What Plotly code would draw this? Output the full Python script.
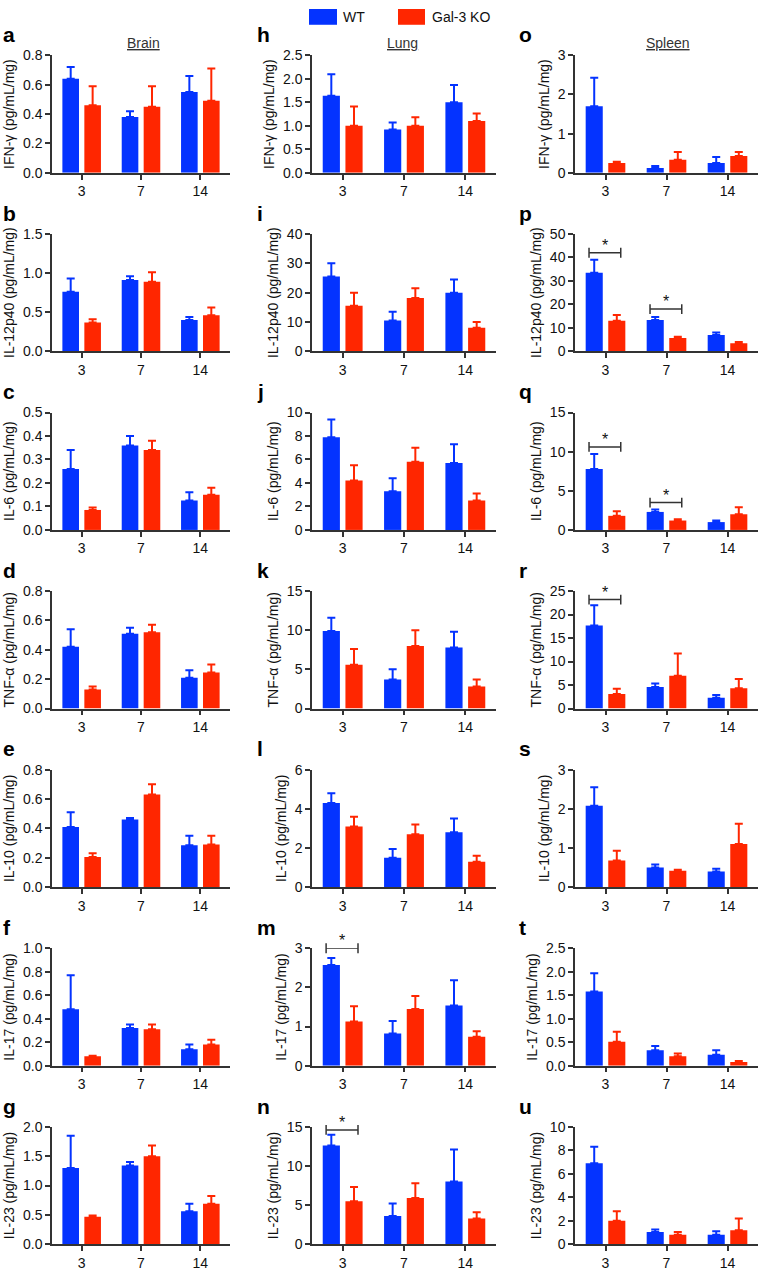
import plotly.graph_objects as go

W, H = 760, 1271

days = ["3", "7", "14"]
tissues = ["Brain", "Lung", "Spleen"]
cytokines = ["IFN-γ", "IL-12p40", "IL-6", "TNF-α", "IL-10", "IL-17", "IL-23"]
panel_letters = [list("abcdefg"), list("hijklmn"), list("opqrstu")]

# ---- Brain ----
brain_wt = [[0.64, 0.38, 0.55], [0.76, 0.91, 0.40], [0.26, 0.36, 0.125], [0.42, 0.51, 0.21],
            [0.41, 0.46, 0.285], [0.48, 0.32, 0.14], [1.30, 1.34, 0.56]]
brain_wt_err = [[0.08, 0.04, 0.11], [0.17, 0.05, 0.04], [0.08, 0.04, 0.035], [0.12, 0.04, 0.05],
                [0.10, 0.01, 0.065], [0.29, 0.03, 0.04], [0.55, 0.06, 0.13]]
brain_ko = [[0.46, 0.45, 0.49], [0.37, 0.89, 0.46], [0.085, 0.34, 0.15], [0.13, 0.52, 0.245],
            [0.205, 0.63, 0.29], [0.08, 0.31, 0.18], [0.47, 1.50, 0.69]]
brain_ko_err = [[0.13, 0.14, 0.22], [0.04, 0.12, 0.10], [0.01, 0.04, 0.03], [0.02, 0.05, 0.055],
                [0.025, 0.07, 0.06], [0.005, 0.04, 0.04], [0.02, 0.18, 0.13]]

# ---- Lung ----
lung_wt = [[1.64, 0.92, 1.50], [25.5, 10.5, 20.0], [7.9, 3.3, 5.7], [9.9, 3.7, 7.8],
           [4.3, 1.5, 2.8], [2.57, 0.82, 1.54], [12.6, 3.6, 8.0]]
lung_wt_err = [[0.46, 0.15, 0.37], [4.5, 3.0, 4.5], [1.5, 1.1, 1.6], [1.7, 1.3, 2.0],
               [0.5, 0.45, 0.7], [0.18, 0.32, 0.64], [1.4, 1.6, 4.1]]
lung_ko = [[1.00, 1.00, 1.10], [15.5, 18.2, 8.0], [4.2, 5.8, 2.5], [5.6, 8.0, 2.8],
           [3.1, 2.7, 1.3], [1.13, 1.45, 0.74], [5.5, 5.9, 3.3]]
lung_ko_err = [[0.41, 0.18, 0.16], [4.5, 3.3, 2.0], [1.3, 1.2, 0.6], [2.0, 2.0, 0.9],
               [0.5, 0.5, 0.3], [0.39, 0.33, 0.14], [1.8, 1.9, 0.8]]

# ---- Spleen ----
spleen_wt = [[1.70, 0.12, 0.25], [33.5, 13.3, 7.0], [7.8, 2.3, 1.0], [17.7, 4.6, 2.3],
             [2.08, 0.50, 0.40], [1.58, 0.33, 0.23], [6.9, 1.05, 0.8]]
spleen_wt_err = [[0.73, 0.05, 0.15], [5.5, 1.3, 1.0], [1.9, 0.3, 0.2], [4.3, 0.7, 0.6],
                 [0.47, 0.08, 0.07], [0.39, 0.09, 0.10], [1.4, 0.2, 0.3]]
spleen_ko = [[0.25, 0.33, 0.43], [13.0, 5.7, 3.4], [1.8, 1.2, 2.0], [3.1, 7.0, 4.3],
             [0.68, 0.42, 1.10], [0.51, 0.20, 0.08], [2.0, 0.8, 1.2]]
spleen_ko_err = [[0.03, 0.20, 0.10], [2.5, 0.5, 0.6], [0.6, 0.15, 0.9], [1.1, 4.7, 2.0],
                 [0.25, 0.02, 0.52], [0.21, 0.06, 0.02], [0.8, 0.25, 1.0]]

# axis maxima and tick steps per tissue/cytokine
y_max = [[0.8, 1.5, 0.5, 0.8, 0.8, 1.0, 2.0],
         [2.5, 40, 10, 15, 6, 3, 15],
         [3, 50, 15, 25, 3, 2.5, 10]]
y_dtick = [[0.2, 0.5, 0.1, 0.2, 0.2, 0.2, 0.5],
           [0.5, 10, 2, 5, 2, 1, 5],
           [1, 10, 5, 5, 1, 0.5, 2]]

# significance marks: (tissue, cytokine row, day index, bracket level)
sig_tissue = [1, 1, 2, 2, 2, 2, 2, 2]
sig_row = [5, 6, 1, 1, 2, 2, 3, 6]
sig_day = [0, 0, 0, 1, 0, 1, 0, 0]
sig_level = [3.0, 14.6, 42, 18, 10.6, 3.5, 23.2, 10.6]

wt_mean = [brain_wt, lung_wt, spleen_wt]
wt_err = [brain_wt_err, lung_wt_err, spleen_wt_err]
ko_mean = [brain_ko, lung_ko, spleen_ko]
ko_err = [brain_ko_err, lung_ko_err, spleen_ko_err]

BLUE = "#0433FF"
RED = "#FF2600"
AX = "#333333"
FONT = "Liberation Sans, Arial, Helvetica, sans-serif"

col_px = [(52, 230), (312, 496), (575, 758)]
letter_x = [1, 255, 517]
title_x = [143, 402, 668]
row_bottom = [167 + 181 * i for i in range(7)]
PLOT_H = 119

fig = go.Figure()
layout = {}
annotations = []
shapes = []


def ax_name(k):
    return "" if k == 1 else str(k)


for t in range(3):
    for r in range(7):
        k = t * 7 + r + 1
        xa, ya = "x" + ax_name(k), "y" + ax_name(k)
        for means, errs, color, off in ((wt_mean[t][r], wt_err[t][r], BLUE, -0.325),
                                        (ko_mean[t][r], ko_err[t][r], RED, 0.045)):
            fig.add_trace(go.Bar(
                x=[0, 1, 2], y=means, offset=off, width=0.28,
                marker=dict(color=color, line=dict(width=0)),
                error_y=dict(type="data", array=errs, arrayminus=[0, 0, 0], symmetric=False,
                             color=color, thickness=2, width=4),
                xaxis=xa, yaxis=ya, showlegend=False, hoverinfo="skip"))
        x0, x1 = col_px[t]
        yb = row_bottom[r]
        yt = yb - PLOT_H
        fmt = ".1f" if y_dtick[t][r] < 1 else "d"
        layout["xaxis" + ax_name(k)] = dict(
            domain=[x0 / W, x1 / W], anchor=ya, range=[-0.5, 2.5],
            tickmode="array", tickvals=[0, 1, 2], ticktext=days,
            showline=True, linecolor=AX, linewidth=1.5, ticks="outside", ticklen=5,
            tickwidth=1.5, tickcolor=AX, showgrid=False, zeroline=False,
            tickfont=dict(family=FONT, size=14, color="#111"), fixedrange=True)
        layout["yaxis" + ax_name(k)] = dict(
            domain=[1 - yb / H, 1 - yt / H], anchor=xa, range=[0, y_max[t][r]],
            dtick=y_dtick[t][r], tick0=0, tickformat=fmt,
            showline=True, linecolor=AX, linewidth=1.5, ticks="outside", ticklen=5,
            tickwidth=1.5, tickcolor=AX, showgrid=False, zeroline=False,
            tickfont=dict(family=FONT, size=14, color="#111"),
            title=dict(text=f"{cytokines[r]} (pg/mL/mg)", standoff=5,
                       font=dict(family=FONT, size=14, color="#111")),
            fixedrange=True)
        annotations.append(dict(
            xref="paper", yref="paper", x=letter_x[t] / W, y=1 - (27 + 181 * r) / H,
            xanchor="left", yanchor="middle", showarrow=False,
            text=f"<b>{panel_letters[t][r]}</b>",
            font=dict(family=FONT, size=21, color="#000")))

# tissue headers
for t in range(3):
    annotations.append(dict(
        xref="paper", yref="paper", x=title_x[t] / W, y=1 - 35 / H,
        xanchor="center", yanchor="middle", showarrow=False,
        text=f"<u>{tissues[t]}</u>", font=dict(family=FONT, size=14, color="#333")))

# significance brackets
for i in range(len(sig_level)):
    t, r, d, lvl = sig_tissue[i], sig_row[i], sig_day[i], sig_level[i]
    k = t * 7 + r + 1
    xa, ya = "x" + ax_name(k), "y" + ax_name(k)
    fig.add_trace(go.Scatter(
        x=[d - 0.27, d + 0.25], y=[lvl, lvl], mode="lines+markers",
        line=dict(color=AX, width=1.5),
        marker=dict(symbol="line-ns", size=7, line=dict(color=AX, width=1.5)),
        cliponaxis=False, xaxis=xa, yaxis=ya, showlegend=False, hoverinfo="skip"))
    annotations.append(dict(
        xref=xa, yref=ya, x=d - 0.01, y=lvl, xanchor="center", yanchor="bottom",
        yshift=-3, showarrow=False, text="*", font=dict(family=FONT, size=16, color="#111")))

# legend
for (xl, xr, label, tx, color) in ((309, 337, "WT", 341, BLUE), (398, 425, "Gal-3 KO", 430, RED)):
    shapes.append(dict(type="rect", xref="paper", yref="paper",
                       x0=xl / W, x1=xr / W, y0=1 - 17 / H, y1=1 - 1 / H,
                       fillcolor=color, line=dict(width=0)))
    annotations.append(dict(xref="paper", yref="paper", x=tx / W, y=1 - 9 / H,
                            xanchor="left", yanchor="middle", showarrow=False, text=label,
                            font=dict(family=FONT, size=14, color="#111")))

fig.update_layout(
    width=W, height=H, margin=dict(l=0, r=0, t=0, b=0),
    paper_bgcolor="white", plot_bgcolor="white", barmode="overlay",
    showlegend=False, annotations=annotations, shapes=shapes, **layout)

fig.write_html(
    "out.html",
    config={"displayModeBar": False},
    post_script="document.body.style.margin='0';document.body.style.padding='0';"
                "document.documentElement.style.margin='0';",
)
